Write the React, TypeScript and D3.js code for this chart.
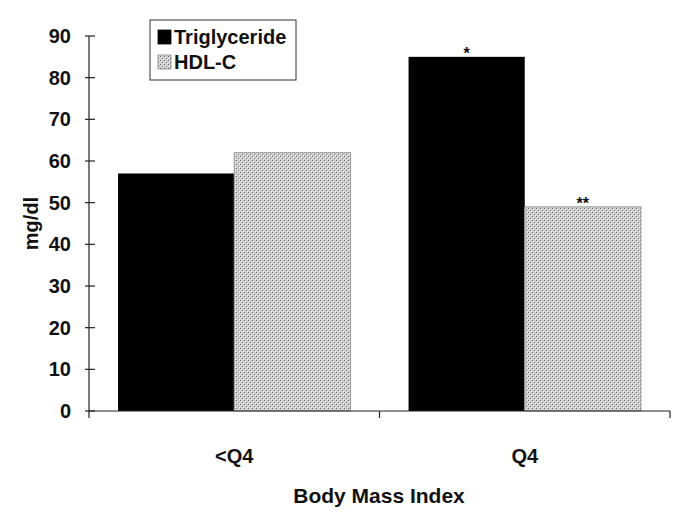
import React from "react";
import * as d3 from "d3";

const categories = ["<Q4", "Q4"];
const seriesNames = ["Triglyceride", "HDL-C"];
const triglyceride = [57, 85];
const hdl = [62, 49];
const marks = [["", "*"], ["", "**"]]; // per series, per category
const yTicks = [0, 10, 20, 30, 40, 50, 60, 70, 80, 90];

const W = 685, H = 513;
const M = { left: 89, right: 670, top: 36, bottom: 411 };

export default function App() {
  const x0 = d3.scaleBand<string>().domain(categories).range([M.left, M.right]).paddingInner(0).paddingOuter(0);
  const x1 = d3.scaleBand<string>().domain(seriesNames).range([0, x0.bandwidth()]).paddingOuter(0.25).paddingInner(0);
  const y = d3.scaleLinear().domain([0, 90]).range([M.bottom, M.top]);
  const series = [triglyceride, hdl];
  const font = "'Liberation Sans', Arial, sans-serif";
  return (
    <svg width={W} height={H} style={{ position: "absolute", left: 0, top: 0, background: "#fff" }}>
      <defs>
        <pattern id="dots" width="4" height="4" patternUnits="userSpaceOnUse">
          <rect width="4" height="4" fill="#d0d0d0" />
          <rect x="0" y="0" width="1" height="1" fill="#666" />
          <rect x="2" y="2" width="1" height="1" fill="#777" />
          <rect x="1" y="1" width="1" height="1" fill="#f0f0f0" />
          <rect x="3" y="3" width="1" height="1" fill="#f0f0f0" />
        </pattern>
      </defs>
      {categories.map((c, ci) =>
        series.map((vals, si) => {
          const bx = (x0(c) as number) + (x1(seriesNames[si]) as number);
          const by = y(vals[ci]);
          return (
            <g key={c + si}>
              <rect x={bx} y={by} width={x1.bandwidth()} height={y(0) - by}
                fill={si === 0 ? "#000" : "url(#dots)"} stroke={si === 0 ? "#000" : "#999"} strokeWidth={si === 0 ? 0 : 1} />
              {marks[si][ci] && (
                <text x={bx + x1.bandwidth() / 2} y={by + 2} textAnchor="middle" fontFamily={font} fontWeight="bold" fontSize={16} fill="#111">{marks[si][ci]}</text>
              )}
            </g>
          );
        })
      )}
      {/* y axis */}
      <line x1={M.left} x2={M.left} y1={y(90)} y2={y(0)} stroke="#222" strokeWidth={1.2} />
      {yTicks.map(t => (
        <g key={t}>
          <line x1={M.left - 4} x2={M.left + 6} y1={y(t)} y2={y(t)} stroke="#222" strokeWidth={1.2} />
          <text x={71} y={y(t) + 7} textAnchor="end" fontFamily={font} fontWeight="bold" fontSize={20} fill="#111">{t}</text>
        </g>
      ))}
      {/* x axis */}
      <line x1={M.left} x2={M.right} y1={y(0)} y2={y(0)} stroke="#222" strokeWidth={1.2} />
      {[M.left, ...categories.map(c => (x0(c) as number) + x0.bandwidth())].map((px, i) => (
        <line key={i} x1={px} x2={px} y1={y(0)} y2={y(0) + 7} stroke="#222" strokeWidth={1.2} />
      ))}
      {categories.map(c => (
        <text key={c} x={(x0(c) as number) + x0.bandwidth() / 2} y={463} textAnchor="middle" fontFamily={font} fontWeight="bold" fontSize={20} fill="#111">{c}</text>
      ))}
      <text x={379} y={503} textAnchor="middle" fontFamily={font} fontWeight="bold" fontSize={21} fill="#111">Body Mass Index</text>
      <text transform={`translate(38,${y(45)}) rotate(-90)`} textAnchor="middle" fontFamily={font} fontWeight="bold" fontSize={20} fill="#111">mg/dl</text>
      {/* legend */}
      <rect x={150} y={20} width={146} height={60} fill="#fff" stroke="#333" strokeWidth={1} />
      {seriesNames.map((s, i) => (
        <g key={s}>
          <rect x={158} y={30 + i * 25} width={13} height={14} fill={i === 0 ? "#000" : "url(#dots)"} stroke={i === 0 ? "#000" : "#888"} strokeWidth={0.8} />
          <text x={174} y={44 + i * 25} fontFamily={font} fontWeight="bold" fontSize={20} fill="#111">{s}</text>
        </g>
      ))}
    </svg>
  );
}
